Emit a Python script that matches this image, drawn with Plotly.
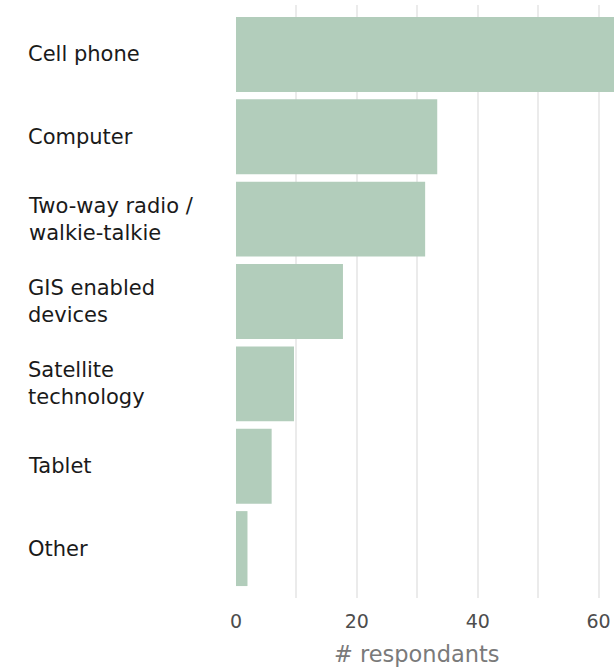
import plotly.graph_objects as go

categories = ["Cell phone", "Computer", "Two-way radio /<br>walkie-talkie",
              "GIS enabled<br>devices", "Satellite<br>technology", "Tablet", "Other"]
values = [63, 33.3, 31.3, 17.7, 9.6, 5.9, 1.9]
tick_vals = [0, 20, 40, 60]
tick_text = ["0", "20", "40", "60"]
x_title = "# respondants"

FONT = "DejaVu Sans"

fig = go.Figure()
fig.add_trace(go.Bar(
    y=list(range(len(categories))), x=values, orientation="h",
    marker=dict(color="#b2cdbb", line=dict(width=0)),
    width=0.91,
))

for i, c in enumerate(categories):
    fig.add_annotation(x=0, xref="paper", xshift=-210, y=i, yref="y",
                       text=c, showarrow=False, xanchor="left", yanchor="middle",
                       align="left", font=dict(family=FONT, size=21, color="#1a1a1a"))

fig.add_annotation(x=0.478, xref="paper", y=0, yref="paper", yshift=-56,
                   text=x_title, showarrow=False, xanchor="center", yanchor="middle",
                   font=dict(family=FONT, size=22.5, color="#7a7a7a"))

fig.update_layout(
    width=614, height=667,
    margin=dict(l=236, r=0, t=5, b=69, autoexpand=False),
    plot_bgcolor="white", paper_bgcolor="white",
    showlegend=False,
    font=dict(family=FONT),
    xaxis=dict(range=[0, 62.55], tickvals=tick_vals, ticktext=tick_text,
               automargin=False,
               showgrid=True, gridcolor="#ebebeb", gridwidth=1.6,
               zeroline=False, showline=False, ticks="outside", ticklen=6,
               tickcolor="rgba(0,0,0,0)",
               tickfont=dict(size=19, color="#4d4d4d"),
               minor=dict(dtick=10, tick0=0, showgrid=True, gridcolor="#ebebeb", gridwidth=1.6)),
    yaxis=dict(range=[6.6, -0.6], showticklabels=False, showgrid=False,
               automargin=False, zeroline=False, ticks=""),
)
fig.write_html("out.html", config={"displayModeBar": False},
               post_script="document.body.style.margin='0';")
